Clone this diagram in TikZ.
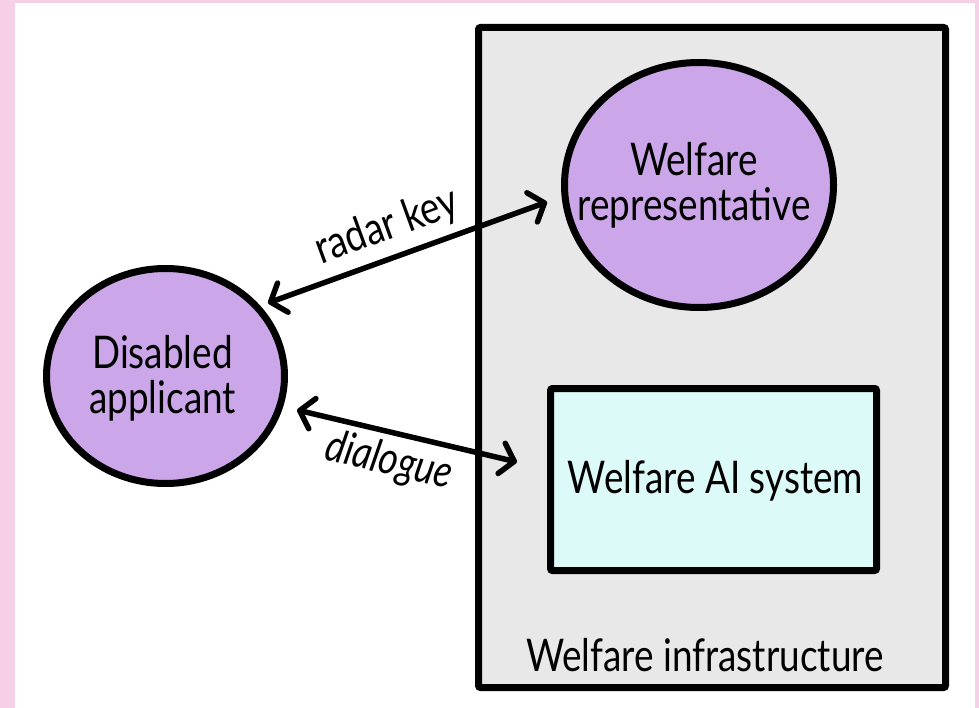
\documentclass[tikz,border=0pt]{standalone}
\usepackage{fontspec}
\setmainfont{Lato}[FakeStretch=0.82]
\usetikzlibrary{arrows.meta,shapes.geometric,calc}
\definecolor{framepink}{RGB}{245,208,230}
\definecolor{nodepurple}{RGB}{203,166,232}
\definecolor{infragray}{RGB}{232,232,232}
\definecolor{aicyan}{RGB}{220,250,247}
\begin{document}
\begin{tikzpicture}[x=1pt,y=-1pt,
  lbl/.style={font=\fontsize{45}{45}\selectfont, align=center, inner sep=0pt},
  actor/.style={ellipse, draw=black, line width=7pt, fill=nodepurple, inner sep=0pt, outer sep=0pt},
  panel/.style={rectangle, draw=black, line width=7pt, rounded corners=2pt, inner sep=0pt, outer sep=0pt},
  link/.style={line width=5.5pt, line cap=round,
    {Straight Barb[length=13pt,width=31pt,round]}-{Straight Barb[length=13pt,width=31pt,round]}}
]
% page frame
\fill[framepink] (0,0) rectangle (979,708);
\fill[white] (15,3) rectangle (975,708);
\useasboundingbox (0,0) rectangle (979,708);

% infrastructure container and its members
\node[panel, fill=infragray, minimum width=467pt, minimum height=660pt] (infra) at (712,357.5) {};
\node[lbl] (infralabel) at (705,655) {Welfare infrastructure};
\node[actor, minimum width=269pt, minimum height=245pt] (rep) at (699,185) {};
\node[lbl] (reptext) at ($(rep.center)+(-5,0)$) {Welfare\\representative};
\node[panel, fill=aicyan, minimum width=326pt, minimum height=182pt] (ai) at (713.5,479.5) {};
\node[lbl] (aitext) at ($(ai.center)+(2,1)$) {Welfare AI system};

% applicant
\node[actor, minimum width=238pt, minimum height=215pt] (app) at (165.5,376) {};
\node[lbl] (apptext) at ($(app.center)+(-3,2)$) {Disabled\\applicant};

% connector end points
\coordinate (a1) at ($(app.center)+(102.5,-73)$);
\coordinate (r1) at ($(rep.center)+(-152,17)$);
\coordinate (a2) at ($(app.center)+(131.5,34)$);
\coordinate (s2) at ($(ai.west)+(-33.5,-17.5)$);

\draw[link] (a1) -- (r1);
\draw[link] (a2) -- (s2);

\node[lbl, rotate=20] (radar) at (387,227) {radar key};
\node[lbl, rotate=-13.3, font={\fontsize{45}{45}\selectfont\itshape}] (dialogue) at (389,462) {dialogue};
\end{tikzpicture}
\end{document}
